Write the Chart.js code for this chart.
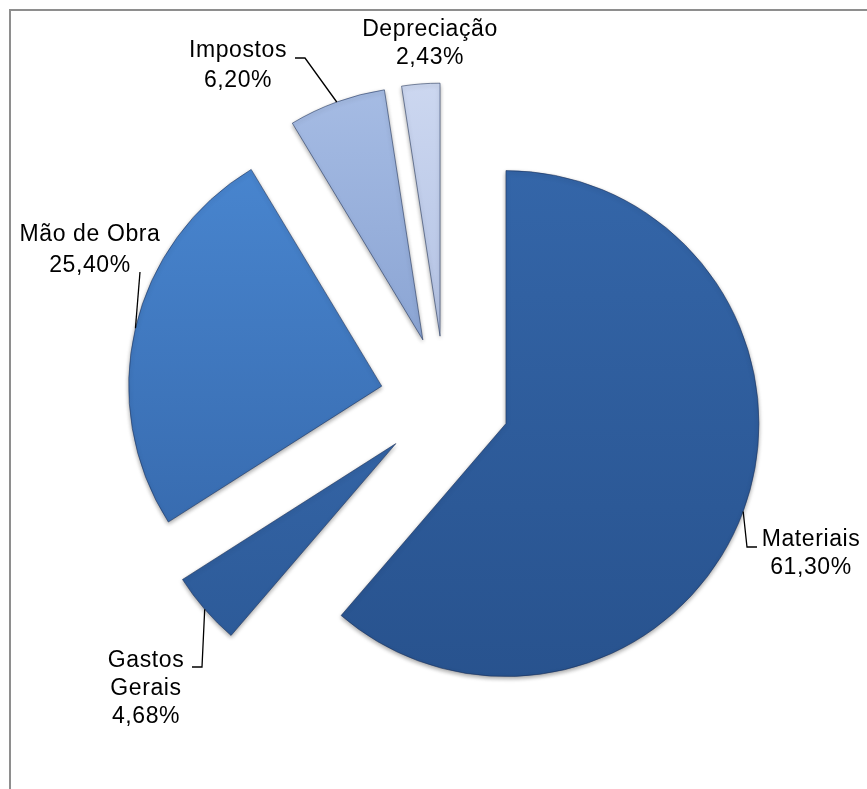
<!DOCTYPE html>
<html>
<head>
<meta charset="utf-8">
<script src="https://cdn.jsdelivr.net/npm/chart.js@4.4.1/dist/chart.umd.min.js"></script>
<style>
  html, body { margin: 0; padding: 0; background: #ffffff; }
  #wrap { width: 867px; height: 789px; position: relative; }
</style>
</head>
<body>
<div id="wrap"><canvas id="chart" width="867" height="789"></canvas></div>
<script>
// Composição do custo (%)
const categories = ['Materiais', 'Gastos Gerais', 'Mão de Obra', 'Impostos', 'Depreciação'];
const shares = [61.30, 4.68, 25.40, 6.20, 2.43];

// Cores de cada fatia: [claro (topo), escuro (base)]
const sliceColors = [
  ['#3669AD', '#27518C'],
  ['#4074BA', '#2A5794'],
  ['#4C8BD6', '#2F5E9F'],
  ['#A6BCE4', '#6483BC'],
  ['#CCD7F0', '#8EA3D1']
];

const EXPLODE = 65;   // afastamento de cada fatia a partir do centro
const RADIUS = 253;

const pct = v => v.toFixed(2).replace('.', ',') + '%';

// Posição dos rótulos e pontos das linhas de chamada
const labelLayout = [
  { x: 811, y: 540, lh: 28, split: false, leader: [[747, 547], [757, 547]] },
  { x: 146, y: 661, lh: 28, split: true,  leader: [[202, 667], [192, 667]] },
  { x: 90,  y: 235, lh: 31, split: false, leader: [[140, 272]] },
  { x: 238, y: 51,  lh: 30, split: false, leader: [[305, 58], [295, 58]] },
  { x: 430, y: 30,  lh: 28, split: false, leader: null }
];

function sliceFill(context) {
  const chart = context.chart;
  const area = chart.chartArea;
  const pair = sliceColors[context.dataIndex];
  if (!area) return pair[0];
  const cy = (area.top + area.bottom) / 2;
  const g = chart.ctx.createLinearGradient(0, cy - RADIUS - EXPLODE, 0, cy + RADIUS + EXPLODE);
  g.addColorStop(0, pair[0]);
  g.addColorStop(1, pair[1]);
  return g;
}

const frame = {
  id: 'frame',
  beforeDraw(chart) {
    const c = chart.ctx;
    c.save();
    c.strokeStyle = '#8e8e8e';
    c.lineWidth = 2;
    c.beginPath();
    c.moveTo(10, 789);
    c.lineTo(10, 10);
    c.lineTo(867, 10);
    c.stroke();
    c.restore();
  }
};

const explode = {
  id: 'explode',
  afterDatasetUpdate(chart, args) {
    args.meta.data.forEach(arc => {
      const mid = (arc.startAngle + arc.endAngle) / 2;
      arc.x += Math.cos(mid) * EXPLODE;
      arc.y += Math.sin(mid) * EXPLODE;
    });
  }
};

// Sombra suave sob as fatias
const softShadow = {
  id: 'softShadow',
  beforeDatasetsDraw(chart) {
    const c = chart.ctx;
    c.save();
    c.shadowColor = 'rgba(0, 0, 0, 0.35)';
    c.shadowBlur = 4;
    c.shadowOffsetX = 0;
    c.shadowOffsetY = 2;
  },
  afterDatasetsDraw(chart) {
    chart.ctx.restore();
  }
};

const sliceLabels = {
  id: 'sliceLabels',
  afterDatasetsDraw(chart) {
    const c = chart.ctx;
    const meta = chart.getDatasetMeta(0);
    const values = chart.data.datasets[0].data;
    c.save();
    c.shadowColor = 'transparent';
    c.font = '23px "Liberation Sans", Arial, sans-serif';
    c.fillStyle = '#000000';
    c.strokeStyle = '#000000';
    c.lineWidth = 1.3;
    c.textAlign = 'center';
    c.textBaseline = 'middle';
    try { c.letterSpacing = '0.6px'; } catch (e) {}
    meta.data.forEach((arc, i) => {
      const lay = labelLayout[i];
      if (lay.leader) {
        const mid = (arc.startAngle + arc.endAngle) / 2;
        const ax = arc.x + arc.outerRadius * Math.cos(mid);
        const ay = arc.y + arc.outerRadius * Math.sin(mid);
        c.beginPath();
        c.moveTo(ax, ay);
        lay.leader.forEach(p => c.lineTo(p[0], p[1]));
        c.stroke();
      }
      const name = chart.data.labels[i];
      const lines = lay.split ? name.split(' ') : [name];
      lines.push(pct(values[i]));
      lines.forEach((t, k) => c.fillText(t, lay.x, lay.y + k * lay.lh));
    });
    c.restore();
  }
};

new Chart(document.getElementById('chart'), {
  type: 'pie',
  data: {
    labels: categories,
    datasets: [{
      data: shares,
      backgroundColor: sliceFill,
      borderColor: 'rgba(25, 45, 85, 0.55)',
      borderWidth: 1
    }]
  },
  options: {
    responsive: false,
    devicePixelRatio: 1,
    animation: false,
    radius: RADIUS,
    layout: { padding: { left: 23, right: 0, top: 13, bottom: 0 } },
    plugins: {
      legend: { display: false },
      tooltip: { enabled: false }
    }
  },
  plugins: [frame, softShadow, explode, sliceLabels]
});
</script>
</body>
</html>
